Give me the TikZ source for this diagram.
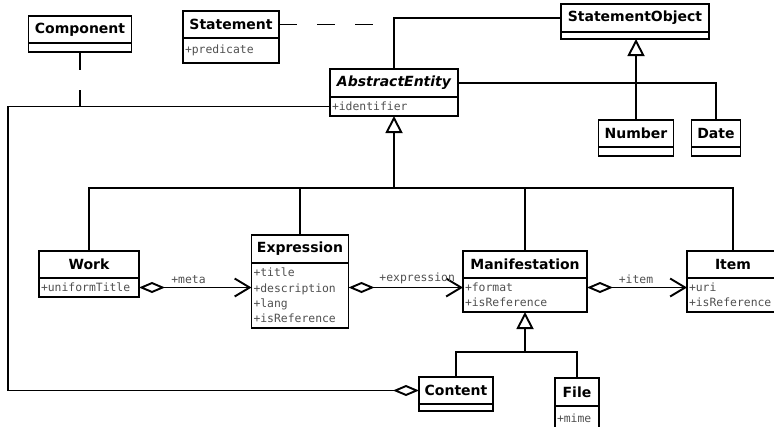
\documentclass[tikz,border=0pt]{standalone}
\usepackage{fontspec}
\setsansfont{DejaVu Sans}
\setmonofont{DejaVu Sans Mono}
\usepackage{xcolor}
\usetikzlibrary{arrows.meta}
\definecolor{attrGray}{RGB}{80,80,80}

\begin{document}
\begin{tikzpicture}[x=1pt, y=-1pt, line width=1.9pt,
    clsName/.style={draw, fill=white, inner sep=0pt, outer sep=0pt, font=\sffamily\bfseries\fontsize{14}{16}\selectfont},
    clsAttr/.style={draw, fill=white, anchor=north, inner xsep=2pt, inner ysep=0pt, outer sep=0pt, align=left, text=attrGray, font=\ttfamily\fontsize{11.4}{15.3}\selectfont},
    roleLabel/.style={above, inner sep=3pt, text=attrGray, font=\ttfamily\fontsize{11.4}{13}\selectfont},
    gen/.style={-{Triangle[open, length=17pt, width=17pt, fill=white]}},
    aggr/.style={{Diamond[open, length=26pt, width=11pt, fill=white]}-{Straight Barb[length=15pt, width=18pt]}},
    aggrEnd/.style={{Diamond[open, length=26pt, width=11pt, fill=white]}-},
    assocDash/.style={dash pattern=on 18pt off 20pt}]

    \useasboundingbox (0,0) rectangle (774,426);
    \clip (0,0) rectangle (774,426);

    % classes
    \node[clsName, minimum width=103, minimum height=27] (comp) at (80,29.5) {Component};
    \node[clsAttr, minimum width=103, minimum height=9] (compA) at (comp.south) {};

    \node[clsName, minimum width=96, minimum height=27] (stmt) at (231,24.5) {Statement};
    \node[clsAttr, text width=92, minimum height=25] (stmtA) at (stmt.south) {+predicate};

    \node[clsName, minimum width=148, minimum height=28] (stmtObj) at (635,18) {StatementObject};
    \node[clsAttr, minimum width=148, minimum height=7] (stmtObjA) at (stmtObj.south) {};

    \node[clsName, minimum width=128, minimum height=28] (ae) at (394,83) {\itshape AbstractEntity};
    \node[clsAttr, text width=124, minimum height=19] (aeA) at (ae.south) {+identifier};

    \node[clsName, minimum width=75, minimum height=27] (number) at (636,133.5) {Number};
    \node[clsAttr, minimum width=75, minimum height=9] (numberA) at (number.south) {};

    \node[clsName, minimum width=49, minimum height=27] (date) at (716,133.5) {Date};
    \node[clsAttr, minimum width=49, minimum height=9] (dateA) at (date.south) {};

    \node[clsName, minimum width=100, minimum height=27] (work) at (89,264.5) {Work};
    \node[clsAttr, text width=96, minimum height=19] (workA) at (work.south) {+uniformTitle};

    \node[clsName, minimum width=97, minimum height=28] (expr) at (300,249) {Expression};
    \node[clsAttr, text width=93, minimum height=65] (exprA) at (expr.south) {+title\\+description\\+lang\\+isReference};

    \node[clsName, minimum width=124, minimum height=27] (man) at (525,264.5) {Manifestation};
    \node[clsAttr, text width=120, minimum height=34] (manA) at (man.south) {+format\\+isReference};

    \node[clsName, minimum width=92, minimum height=27] (item) at (733,264.5) {Item};
    \node[clsAttr, text width=88, minimum height=34] (itemA) at (item.south) {+uri\\+isReference};

    \node[clsName, minimum width=74, minimum height=27] (content) at (456,390.5) {Content};
    \node[clsAttr, minimum width=74, minimum height=7] (contentA) at (content.south) {};

    \node[clsName, minimum width=44, minimum height=28] (file) at (577,392) {File};
    \node[clsAttr, text width=40, minimum height=24] (fileA) at (file.south) {+mime};

    \coordinate (edgeL) at (8,0);
    \coordinate (stmtEnd) at (377,24.5);
    \coordinate (aeJoin) at (394,188);
    \coordinate (manJoin) at (525,352);

    % associations round AbstractEntity
    \draw (ae.north) |- (stmtObj.west);
    \draw[assocDash] (stmt.east) -- (stmtEnd);
    \draw (ae.east) -| (date.north);
    \draw[gen] (number.north) -- (number.north |- stmtObjA.south);
    \draw[aggrEnd] (content.west) -| (edgeL |- aeA.west) -- (aeA.west);
    \draw[assocDash] (compA.south) -- (compA.south |- aeA.west);

    % inheritance tree
    \draw[gen] (aeJoin) -- (aeA.south);
    \draw (work.north) -- (work.north |- aeJoin) -- (item.north |- aeJoin) -- (item.north);
    \draw (expr.north) -- (expr.north |- aeJoin);
    \draw (man.north) -- (man.north |- aeJoin);

    \draw[gen] (manJoin) -- (manA.south);
    \draw (content.north) -- (content.north |- manJoin) -- (file.north |- manJoin) -- (file.north);

    % draw arrow
    \draw[aggr] (workA.east) -- (workA.east -| exprA.west) node[roleLabel, pos=0.44] {+meta};
    \draw[aggr] (exprA.east |- workA.east) -- (manA.west |- workA.east) node[roleLabel, pos=0.6] {+expression};
    \draw[aggr] (manA.east |- workA.east) -- (itemA.west |- workA.east) node[roleLabel, pos=0.49] {+item};
\end{tikzpicture}
\end{document}
